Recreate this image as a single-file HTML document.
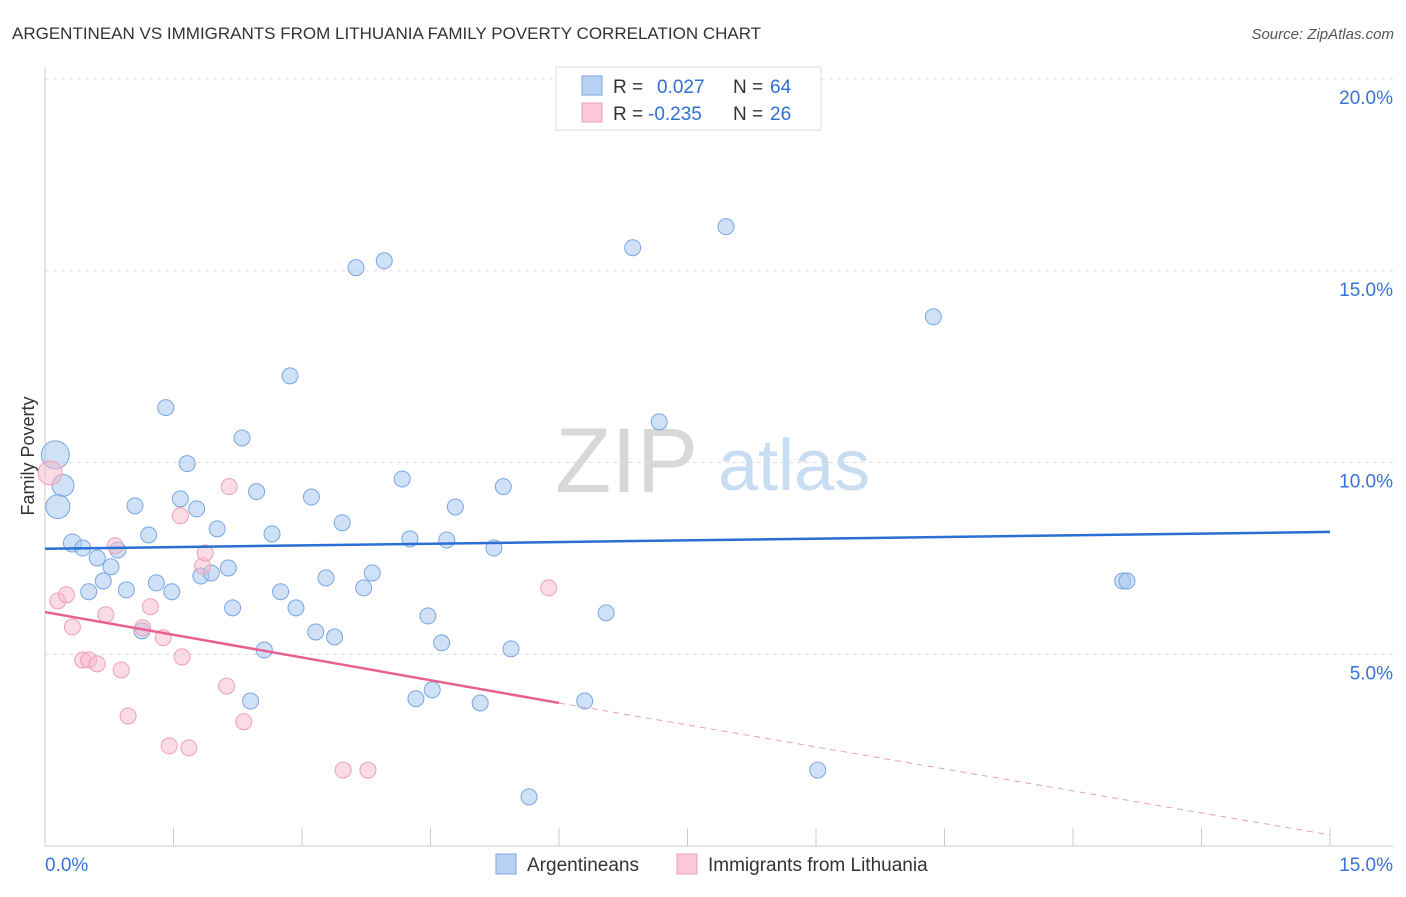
<!DOCTYPE html>
<html><head><meta charset="utf-8"><style>
body{margin:0;background:#fff;font-family:"Liberation Sans",sans-serif;}
svg text{font-family:"Liberation Sans",sans-serif;}
</style></head><body>
<svg id="chart" width="1406" height="892" xmlns="http://www.w3.org/2000/svg">
<text x="12" y="39" font-size="17" fill="#333">ARGENTINEAN VS IMMIGRANTS FROM LITHUANIA FAMILY POVERTY CORRELATION CHART</text>
<text x="1394" y="39" font-size="15" fill="#555" text-anchor="end" font-style="italic">Source: ZipAtlas.com</text>
<g>
<text x="555" y="492" font-size="92" fill="#d8d8d8" font-family="Liberation Serif,serif">ZIP</text>
<text x="718" y="490" font-size="72" fill="#c8dcf2">atlas</text>
</g>
<g id="grid"></g>
<g id="axes"></g>
<g id="marks"></g>
<g>
<rect x="556" y="67" width="265" height="63" fill="#fff" stroke="#ddd"/>
<rect x="582" y="76" width="20" height="19" fill="#b8d2f4" stroke="#7aa6e2"/>
<rect x="582" y="103" width="20" height="19" fill="#fbc8d8" stroke="#eea0b8"/>
<text x="613" y="93" font-size="19" fill="#333">R =</text>
<text x="657" y="93" font-size="19" fill="#2f6fd0">0.027</text>
<text x="733" y="93" font-size="19" fill="#333">N =</text>
<text x="770" y="93" font-size="19" fill="#2f6fd0">64</text>
<text x="613" y="120" font-size="19" fill="#333">R =</text>
<text x="648" y="120" font-size="19" fill="#2f6fd0">-0.235</text>
<text x="733" y="120" font-size="19" fill="#333">N =</text>
<text x="770" y="120" font-size="19" fill="#2f6fd0">26</text>
</g>
<g>
<rect x="496" y="854" width="20" height="20" fill="#b8d2f4" stroke="#7aa6e2"/>
<text x="527" y="871" font-size="19" fill="#333">Argentineans</text>
<rect x="677" y="854" width="20" height="20" fill="#fbc8d8" stroke="#eea0b8"/>
<text x="708" y="871" font-size="19" fill="#333">Immigrants from Lithuania</text>
</g>
<text transform="translate(34,456) rotate(-90)" font-size="18" fill="#333" text-anchor="middle">Family Poverty</text>
</svg>
<script>
const blueX=[0.12,0.21,0.15,0.32,0.44,0.61,0.85,0.77,0.68,0.51,0.95,1.05,1.21,1.30,1.48,1.13,1.41,1.66,1.58,1.77,2.01,1.82,1.94,2.14,2.19,2.30,2.47,2.65,2.56,2.40,2.86,2.75,2.93,3.11,3.16,3.28,3.38,3.47,3.63,3.96,3.72,3.82,4.17,4.26,4.47,4.63,4.33,4.52,4.69,4.79,5.08,5.24,5.35,5.44,5.65,6.30,6.55,6.86,7.17,7.95,9.02,10.37,12.58,12.63];
const blueY=[10.2,9.4,8.85,7.9,7.77,7.51,7.72,7.28,6.91,6.63,6.68,8.87,8.11,6.86,6.63,5.61,11.43,9.97,9.05,8.79,8.27,7.04,7.12,7.25,6.21,10.64,9.24,8.14,5.11,3.78,12.26,6.63,6.21,9.1,5.58,6.99,5.45,8.43,15.08,15.26,6.73,7.12,9.57,8.01,6.0,5.3,3.84,4.07,7.98,8.84,3.73,7.77,9.37,5.14,1.28,3.78,6.08,15.6,11.06,16.15,1.98,13.8,6.91,6.91];
const blueR=[14,11,12,9,8,8,8,8,8,8,8,8,8,8,8,8,8,8,8,8,8,8,8,8,8,8,8,8,8,8,8,8,8,8,8,8,8,8,8,8,8,8,8,8,8,8,8,8,8,8,8,8,8,8,8,8,8,8,8,8,8,8,8,8];
const pinkX=[0.06,0.15,0.25,0.32,0.44,0.51,0.61,0.71,0.82,0.89,0.97,1.14,1.23,1.38,1.45,1.58,1.60,1.68,1.84,1.87,2.12,2.15,2.32,3.48,3.77,5.88];
const pinkY=[9.73,6.39,6.55,5.71,4.85,4.85,4.75,6.03,7.83,4.59,3.39,5.69,6.24,5.43,2.61,8.61,4.93,2.56,7.30,7.64,4.17,9.37,3.24,1.98,1.98,6.73];
const pinkR=[12,8,8,8,8,8,8,8,8,8,8,8,8,8,8,8,8,8,8,8,8,8,8,8,8,8];
const blueLineX=[0,15];
const blueLineY=[7.75,8.19];
const pinkLineX=[0,6.0,15];
const pinkLineY=[6.10,3.73,0.29];
const yTicks=[5,10,15,20];
const yTickLabels=["5.0%","10.0%","15.0%","20.0%"];
const xTicks=[0,1.5,3,4.5,6,7.5,9,10.5,12,13.5,15];

const X=v=>45+v*(1285/15);
const Y=v=>846-v*38.35;
const NS="http://www.w3.org/2000/svg";
function mk(tag,attrs,parent){const e=document.createElementNS(NS,tag);for(const k in attrs)e.setAttribute(k,attrs[k]);parent.appendChild(e);return e;}
const grid=document.getElementById('grid'),axes=document.getElementById('axes'),marks=document.getElementById('marks');
yTicks.forEach((t,i)=>{
  const l=mk('line',{x1:45,x2:1393,y1:Y(t),y2:Y(t),stroke:'#dcdcdc','stroke-dasharray':'4,4'},grid);
  
  
  const tx=mk('text',{x:1393,y:Y(t)+25,'font-size':19,fill:'#3a72d4','text-anchor':'end'},axes);
  tx.textContent=yTickLabels[i];
  
  
});
const ax=mk('line',{x1:45,x2:1393,y1:846,y2:846,stroke:'#ccc'},axes);


const ay=mk('line',{x1:45,x2:45,y1:67,y2:846,stroke:'#ccc'},axes);


xTicks.forEach(t=>{
  const l=mk('line',{x1:X(t),x2:X(t),y1:828,y2:846,stroke:'#ccc'},axes);
  
  
});
const x0=mk('text',{x:45,y:871,'font-size':19,fill:'#3a72d4'},axes);x0.textContent='0.0%';


const x1=mk('text',{x:1393,y:871,'font-size':19,fill:'#3a72d4','text-anchor':'end'},axes);x1.textContent='15.0%';



blueX.forEach((v,i)=>{
  const c=mk('circle',{cx:X(v),cy:Y(blueY[i]),r:blueR[i],fill:'rgba(168,200,240,0.55)',stroke:'#7aa6e2','stroke-width':1},marks);
  
  
});
pinkX.forEach((v,i)=>{
  const c=mk('circle',{cx:X(v),cy:Y(pinkY[i]),r:pinkR[i],fill:'rgba(248,184,204,0.5)',stroke:'#eea0b8','stroke-width':1},marks);
  
  
});
const bl=mk('line',{x1:X(blueLineX[0]),y1:Y(blueLineY[0]),x2:X(blueLineX[1]),y2:Y(blueLineY[1]),stroke:'#2a6fd4','stroke-width':2.5},marks);


const pl=mk('line',{x1:X(pinkLineX[0]),y1:Y(pinkLineY[0]),x2:X(pinkLineX[1]),y2:Y(pinkLineY[1]),stroke:'#e8608f','stroke-width':2.5},marks);


const pd=mk('line',{x1:X(pinkLineX[1]),y1:Y(pinkLineY[1]),x2:X(pinkLineX[2]),y2:Y(pinkLineY[2]),stroke:'#e8a0b8','stroke-width':1,'stroke-dasharray':'6,5'},marks);


</script>
</body></html>
